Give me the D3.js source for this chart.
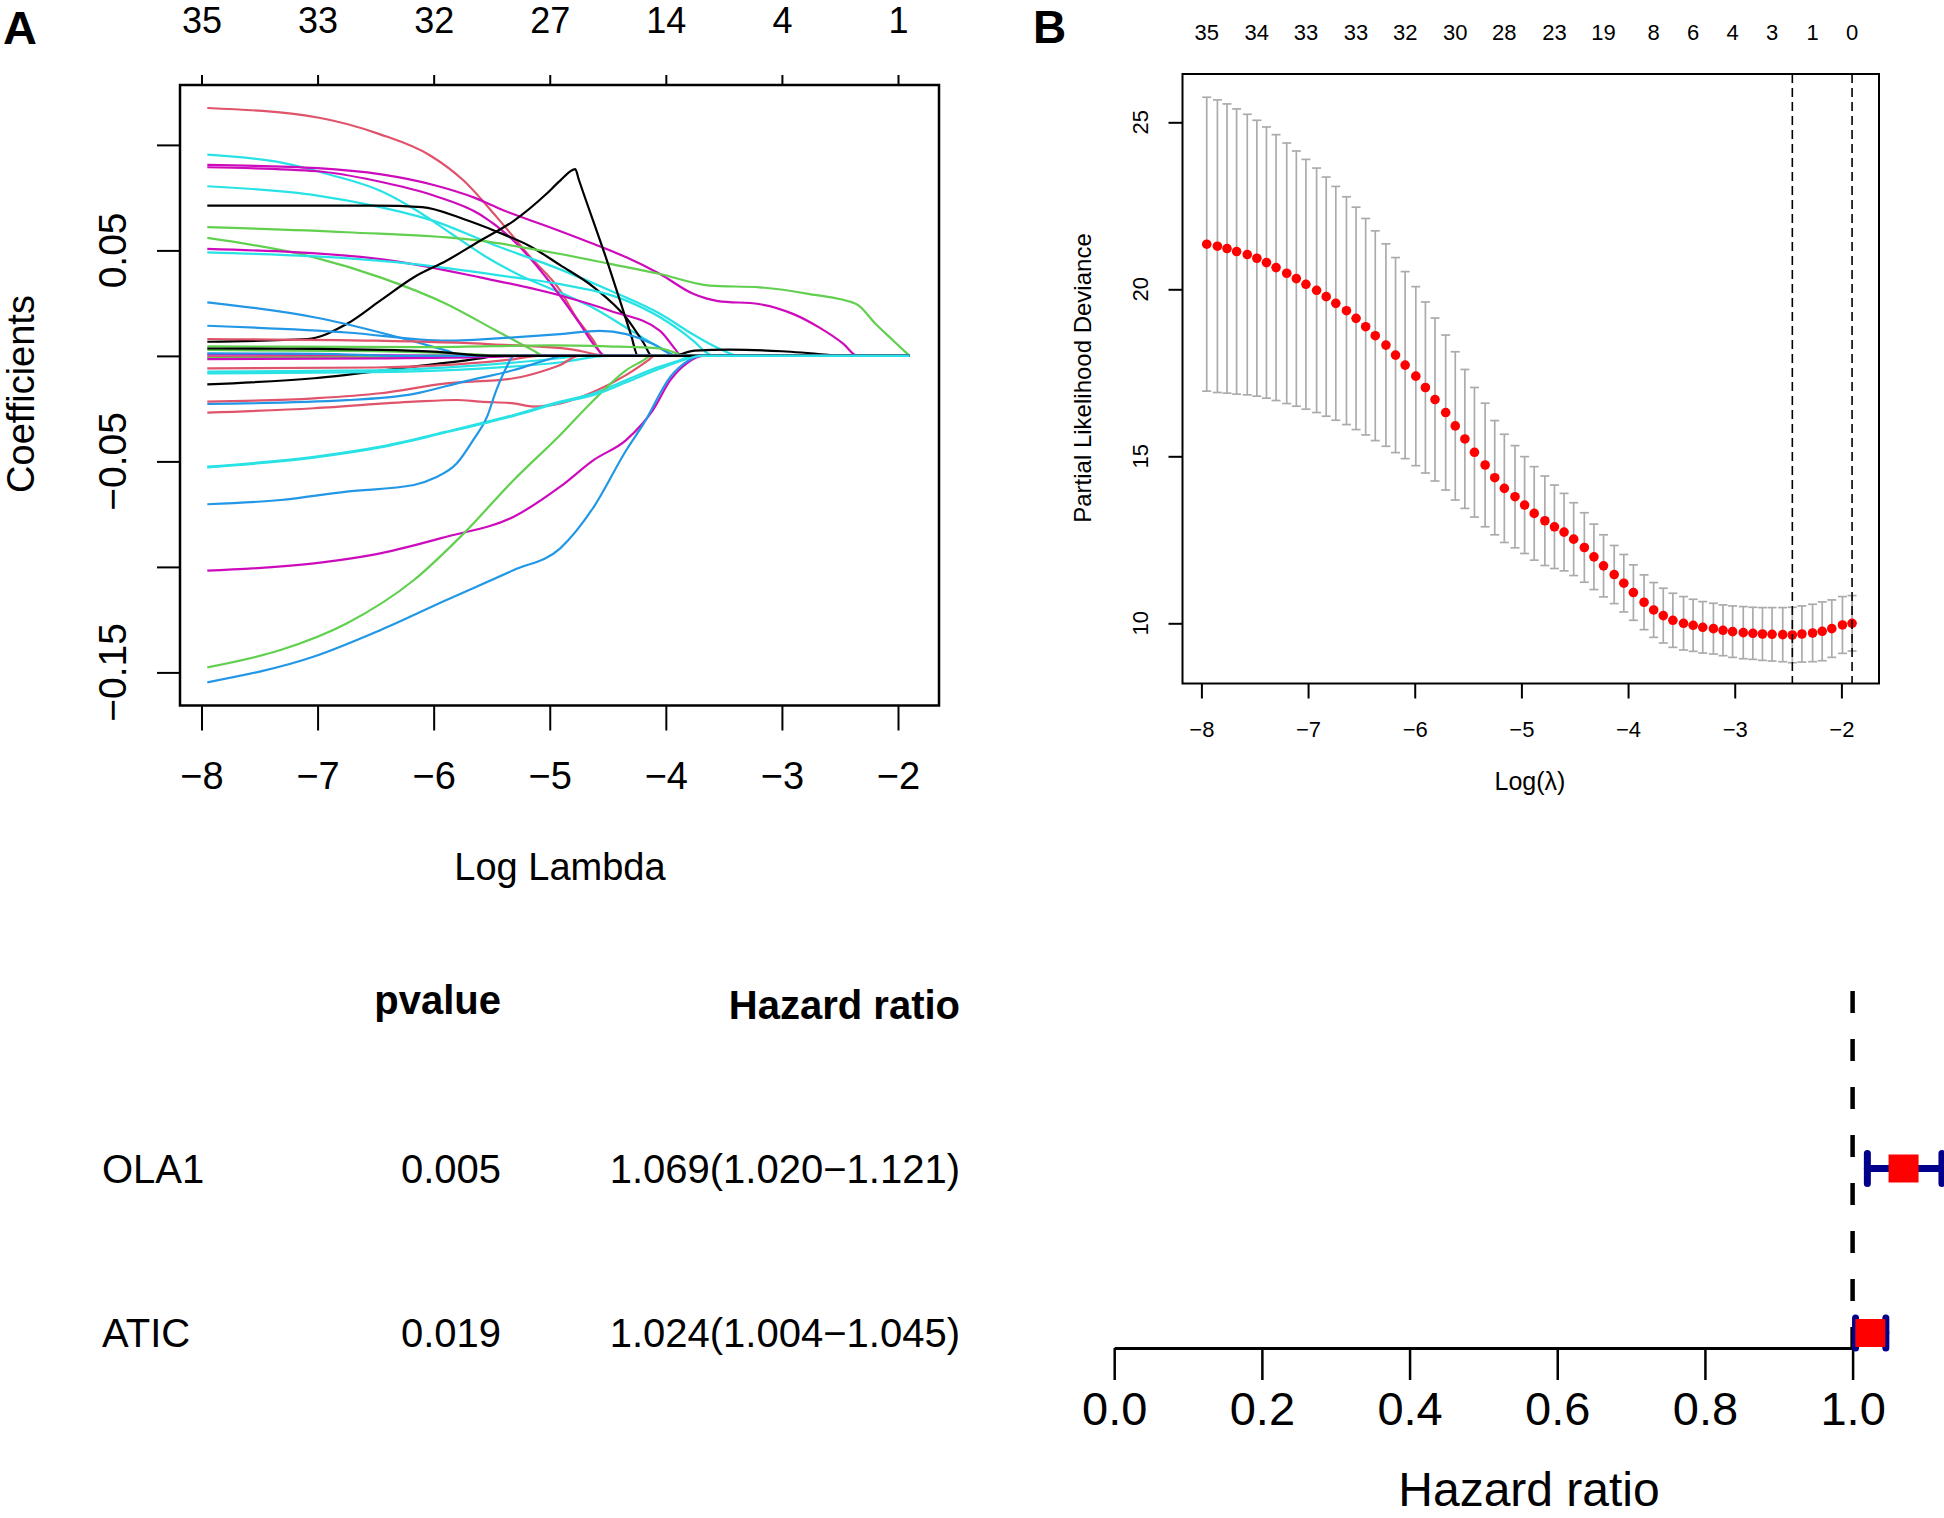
<!DOCTYPE html>
<html>
<head>
<meta charset="utf-8">
<script src="https://cdn.jsdelivr.net/npm/d3@7"></script>
<style>
  body { margin: 0; background: #fff; }
</style>
</head>
<body>
<div id="chart"></div>
<script>
// ---------- data ----------
// R default palette used by glmnet's coefficient plot
var pal = { k: "#000000", r: "#DF536B", g: "#61D04F", b: "#2297E6", c: "#28E2E5", m: "#CD0BBC" }

// panel A : coefficient paths
var lambdaTicks = [-8, -7, -6, -5, -4, -3, -2]
var dfTopA = [35, 33, 32, 27, 14, 4, 1]
var coefTicks = [0.10, 0.05, 0, -0.05, -0.10, -0.15]
var coefTickLabels = ["", "0.05", "", "\u22120.05", "", "\u22120.15"]   // R drops the overlapping ones

var coefColors = ["r","c","m","m","c","k","g","g","m","c","k","b","b","r","g","g","m","k",
  "r","r","c","c","r","b","r","c","b","m","g","b","g","m","b","k","c"]

var coefPaths = [
  [[-7.95,0.1175],[-7.0,0.113],[-6.46,0.105],[-6.03,0.095],[-5.74,0.083],[-5.46,0.066],[-5.17,0.047],[-4.91,0.031],[-4.77,0.018],[-4.62,0.007],[-4.54,0],[-1.9,0]],
  [[-7.95,0.0954],[-7.3,0.0915],[-6.9,0.086],[-6.45,0.078],[-6.15,0.069],[-5.85,0.058],[-5.55,0.047],[-5.25,0.038],[-4.91,0.030],[-4.6,0.022],[-4.3,0.012],[-4.05,0.004],[-3.9,0],[-1.9,0]],
  [[-7.95,0.0905],[-7.0,0.089],[-6.45,0.086],[-6.0,0.081],[-5.65,0.075],[-5.4,0.069],[-5.0,0.061],[-4.62,0.053],[-4.34,0.0467],[-4.05,0.0388],[-3.76,0.0293],[-3.55,0.026],[-3.2,0.0246],[-2.9,0.0198],[-2.68,0.0135],[-2.47,0.0057],[-2.35,0],[-1.9,0]],
  [[-7.95,0.0894],[-7.0,0.0875],[-6.5,0.083],[-6.0,0.076],[-5.6,0.067],[-5.3,0.054],[-5.0,0.035],[-4.75,0.016],[-4.6,0.004],[-4.52,0],[-1.9,0]],
  [[-7.95,0.0804],[-7.0,0.076],[-6.5,0.071],[-6.0,0.064],[-5.5,0.053],[-4.91,0.041],[-4.48,0.031],[-4.05,0.020],[-3.76,0.010],[-3.56,0.004],[-3.36,0],[-1.9,0]],
  [[-7.95,0.0712],[-6.5,0.0712],[-6.1,0.0705],[-5.75,0.065],[-5.46,0.059],[-5.17,0.052],[-4.91,0.043],[-4.62,0.0325],[-4.34,0.018],[-4.19,0.006],[-4.12,0],[-1.9,0]],
  [[-7.95,0.061],[-6.75,0.0586],[-5.6,0.0546],[-4.91,0.0483],[-4.48,0.0436],[-4.05,0.0388],[-3.62,0.0333],[-3.19,0.0325],[-2.76,0.0293],[-2.36,0.0246],[-2.19,0.015],[-2.04,0.0072],[-1.9,0]],
  [[-7.95,0.0559],[-7.03,0.0467],[-6.46,0.0372],[-5.89,0.0246],[-5.46,0.0119],[-5.14,0.0025],[-5.05,0],[-1.9,0]],
  [[-7.95,0.0507],[-6.46,0.0459],[-5.6,0.0372],[-4.91,0.0286],[-4.48,0.0214],[-4.05,0.0119],[-3.91,0.0025],[-3.87,0],[-1.9,0]],
  [[-7.95,0.0491],[-6.17,0.0435],[-5.31,0.0372],[-4.91,0.034],[-4.34,0.0262],[-4.05,0.0183],[-3.76,0.007],[-3.65,0.0016],[-3.58,0],[-1.9,0]],
  [[-7.95,0.0067],[-7.09,0.008],[-6.75,0.0151],[-6.46,0.0262],[-6.17,0.0373],[-5.89,0.0451],[-5.6,0.0546],[-5.31,0.064],[-5.03,0.0767],[-4.91,0.0831],[-4.78,0.0885],[-4.75,0.0836],[-4.5,0.044],[-4.3,0.010],[-4.24,0],[-1.9,0]],
  [[-7.95,0.0254],[-7.03,0.0183],[-6.46,0.0111],[-5.89,0.0025],[-5.74,0],[-1.9,0]],
  [[-7.95,0.0143],[-6.75,0.0111],[-5.89,0.0072],[-5.31,0.0088],[-4.91,0.0103],[-4.57,0.0119],[-4.34,0.0103],[-4.11,0.0056],[-3.96,0.0009],[-3.92,0],[-1.9,0]],
  [[-7.95,0.008],[-6.5,0.0072],[-5.5,0.0055],[-4.8,0.003],[-4.5,0],[-1.9,0]],
  [[-7.95,0.0045],[-6.0,0.0042],[-5.0,0.005],[-4.5,0.0045],[-4.05,0.0035],[-3.8,0],[-1.9,0]],
  [[-7.95,0.0028],[-6.5,0.0022],[-5.6,0.0006],[-5.4,0],[-1.9,0]],
  [[-7.95,0.0006],[-7.0,0.0005],[-6.0,0.0002],[-5.7,0],[-1.9,0]],
  [[-7.95,-0.0135],[-7.03,-0.0106],[-6.17,-0.0051],[-5.6,-0.0012],[-5.46,0],[-3.95,0],[-3.75,0.0025],[-3.45,0.003],[-3.0,0.0022],[-2.6,0.0005],[-2.5,0],[-1.9,0]],
  [[-7.95,-0.0004],[-6.5,-0.0003],[-6.0,0],[-1.9,0]],
  [[-7.95,-0.0059],[-6.5,-0.0055],[-5.8,-0.004],[-5.3,-0.0015],[-5.1,0],[-1.9,0]],
  [[-7.95,-0.0075],[-6.5,-0.0068],[-5.5,-0.004],[-4.9,-0.001],[-4.75,0],[-1.9,0]],
  [[-7.95,-0.0083],[-6.5,-0.0077],[-5.6,-0.006],[-4.9,-0.003],[-4.5,0],[-1.9,0]],
  [[-7.95,-0.0217],[-7.03,-0.0201],[-6.46,-0.0177],[-5.89,-0.013],[-5.31,-0.0106],[-5.03,-0.0067],[-4.91,-0.0043],[-4.75,0],[-1.9,0]],
  [[-7.95,-0.0228],[-6.75,-0.021],[-6.17,-0.018],[-5.74,-0.0122],[-5.31,-0.0067],[-5.0,-0.0015],[-4.9,0],[-1.9,0]],
  [[-7.95,-0.0269],[-7.03,-0.0248],[-6.17,-0.0217],[-5.8,-0.0209],[-5.6,-0.0217],[-5.31,-0.0225],[-5.14,-0.024],[-4.91,-0.0225],[-4.62,-0.017],[-4.34,-0.009],[-4.15,-0.002],[-4.1,0],[-1.9,0]],
  [[-7.95,-0.0525],[-7.03,-0.0478],[-6.46,-0.043],[-5.89,-0.0359],[-5.31,-0.028],[-4.91,-0.0217],[-4.62,-0.0177],[-4.34,-0.0114],[-4.05,-0.0051],[-3.91,-0.0027],[-3.76,0],[-1.9,0]],
  [[-7.95,-0.0703],[-7.32,-0.0683],[-6.75,-0.0643],[-6.17,-0.0612],[-6.0,-0.058],[-5.8,-0.0509],[-5.66,-0.0399],[-5.54,-0.0288],[-5.46,-0.0162],[-5.37,-0.0051],[-5.31,0],[-1.9,0]],
  [[-7.95,-0.1018],[-7.03,-0.0983],[-6.46,-0.0936],[-5.89,-0.0857],[-5.31,-0.0762],[-4.91,-0.062],[-4.62,-0.0493],[-4.34,-0.0398],[-4.11,-0.0256],[-3.96,-0.0114],[-3.82,-0.0035],[-3.68,0],[-1.9,0]],
  [[-7.95,-0.1476],[-7.32,-0.1394],[-6.75,-0.1268],[-6.17,-0.1062],[-5.74,-0.0841],[-5.31,-0.0588],[-4.91,-0.0375],[-4.62,-0.0209],[-4.34,-0.0067],[-4.19,-0.002],[-4.13,0],[-1.9,0]],
  [[-7.95,-0.1547],[-7.03,-0.1425],[-6.46,-0.13],[-5.89,-0.1157],[-5.31,-0.1015],[-4.91,-0.0912],[-4.62,-0.0715],[-4.34,-0.0446],[-4.19,-0.032],[-3.96,-0.0098],[-3.82,-0.0027],[-3.71,0],[-1.9,0]],
  [[-7.95,-0.0010],[-6.8,-0.0008],[-6.0,0],[-1.9,0]],
  [[-7.95,-0.0015],[-6.5,-0.0012],[-5.5,-0.0005],[-5.2,0],[-1.9,0]],
  [[-7.95,0.0012],[-7.0,0.001],[-6.2,0],[-1.9,0]],
  [[-7.95,0.0035],[-7.0,0.0033],[-6.0,0.002],[-5.5,0],[-1.9,0]],
  [[-7.95,-0.0528],[-7.03,-0.0482],[-6.46,-0.0434],[-5.89,-0.0362],[-5.31,-0.0284],[-4.91,-0.0222],[-4.62,-0.0185],[-4.34,-0.0125],[-4.05,-0.006],[-3.85,-0.002],[-3.7,0],[-1.9,0]]
]

// panel B : cross-validation curve
var logLambdaB = [-7.95,-7.85,-7.76,-7.67,-7.57,-7.48,-7.39,-7.30,-7.20,-7.11,
  -7.02,-6.92,-6.83,-6.74,-6.64,-6.55,-6.46,-6.37,-6.27,-6.18,
  -6.09,-5.99,-5.90,-5.81,-5.71,-5.62,-5.53,-5.44,-5.34,-5.25,
  -5.16,-5.06,-4.97,-4.88,-4.78,-4.69,-4.60,-4.51,-4.41,-4.32,
  -4.23,-4.13,-4.04,-3.95,-3.85,-3.76,-3.67,-3.58,-3.48,-3.39,
  -3.30,-3.20,-3.11,-3.02,-2.92,-2.83,-2.74,-2.65,-2.55,-2.46,
  -2.37,-2.27,-2.18,-2.09,-1.99,-1.90]
var cvmB = [21.35,21.29,21.22,21.13,21.04,20.93,20.80,20.65,20.48,20.32,
  20.15,19.97,19.78,19.58,19.36,19.13,18.88,18.61,18.33,18.03,
  17.73,17.40,17.06,16.70,16.31,15.91,15.52,15.12,14.74,14.36,
  14.04,13.79,13.54,13.29,13.07,12.89,12.73,12.52,12.27,11.99,
  11.72,11.46,11.20,10.92,10.63,10.40,10.23,10.09,10.00,9.94,
  9.88,9.84,9.79,9.75,9.72,9.70,9.68,9.67,9.66,9.65,
  9.68,9.71,9.76,9.84,9.95,10.00]
var cvsdB = [4.40,4.38,4.33,4.27,4.20,4.13,4.06,3.98,3.90,3.82,
  3.74,3.66,3.58,3.50,3.41,3.33,3.24,3.14,3.03,2.92,
  2.80,2.68,2.56,2.44,2.32,2.22,2.08,1.94,1.85,1.71,
  1.62,1.53,1.45,1.40,1.34,1.25,1.16,1.09,1.04,0.98,
  0.93,0.87,0.86,0.83,0.82,0.82,0.82,0.81,0.80,0.78,
  0.77,0.76,0.76,0.77,0.78,0.78,0.79,0.80,0.81,0.83,
  0.84,0.86,0.88,0.86,0.85,0.83]
var nzeroIdxB = [0, 5, 10, 15, 20, 25, 30, 35, 40, 45, 49, 53, 57, 61, 65]
var nzeroB = [35, 34, 33, 33, 32, 30, 28, 23, 19, 8, 6, 4, 3, 1, 0]
var devTicks = [10, 15, 20, 25]

// panel C : forest plot
var genes = ["OLA1", "ATIC"]
var pvalues = [0.005, 0.019]
var hr = [1.069, 1.024]
var hrLow = [1.020, 1.004]
var hrHigh = [1.121, 1.045]
var hrTicks = [0, 0.2, 0.4, 0.6, 0.8, 1.0]

// ---------- drawing ----------
var font = '"Liberation Sans", Arial, Helvetica, sans-serif'
var svg = d3.select("#chart")
  .append("svg")
  .attr("width", 1944)
  .attr("height", 1518)
  .style("font-family", font)
svg.append("rect").attr("width", 1944).attr("height", 1518).attr("fill", "#fff")

function styleAxis(g, size) {
  g.attr("font-family", font).attr("font-size", size)
  g.selectAll(".tick line").attr("stroke", "#000").attr("stroke-width", 2)
  g.selectAll(".tick text").attr("fill", "#000")
}

// ===== panel A =====
var boxA = { x0: 180, y0: 85, x1: 939, y1: 705.5 }
var xA = d3.scaleLinear().domain([-8, -2]).range([201.5, 898])
var yA = d3.scaleLinear().domain([0.05, -0.15]).range([250.4, 672.4])

var coefLine = d3.line()
  .x(function (d) { return xA(d[0]) })
  .y(function (d) { return yA(d[1]) })
  .curve(d3.curveMonotoneX)

svg.append("g")
  .selectAll("path")
  .data(coefPaths)
  .enter()
  .append("path")
  .attr("d", coefLine)
  .attr("fill", "none")
  .attr("stroke", function (d, i) { return pal[coefColors[i]] })
  .attr("stroke-width", 2.2)

svg.append("rect")
  .attr("x", boxA.x0).attr("y", boxA.y0)
  .attr("width", boxA.x1 - boxA.x0).attr("height", boxA.y1 - boxA.y0)
  .attr("fill", "none").attr("stroke", "#000").attr("stroke-width", 2.5)

var gxA = svg.append("g")
  .attr("transform", "translate(0," + boxA.y1 + ")")
  .call(d3.axisBottom(xA).tickValues(lambdaTicks).tickSize(25).tickPadding(32)
    .tickFormat(d3.format("d")))
gxA.select(".domain").remove()
styleAxis(gxA, 38)

var gtA = svg.append("g")
  .attr("transform", "translate(0," + boxA.y0 + ")")
  .call(d3.axisTop(xA).tickValues(lambdaTicks).tickSize(10).tickPadding(42)
    .tickFormat(function (d, i) { return dfTopA[i] }))
gtA.select(".domain").remove()
styleAxis(gtA, 36)

var gyA = svg.append("g")
  .attr("transform", "translate(" + boxA.x0 + ",0)")
  .call(d3.axisLeft(yA).tickValues(coefTicks).tickSize(23).tickFormat(""))
gyA.select(".domain").remove()
styleAxis(gyA, 38)

// rotated y tick labels like R's las=0
svg.append("g")
  .selectAll("text")
  .data(coefTicks)
  .enter()
  .append("text")
  .attr("transform", function (d) { return "translate(126," + yA(d) + ") rotate(-90)" })
  .attr("text-anchor", "middle")
  .attr("font-size", 39)
  .text(function (d, i) { return coefTickLabels[i] })

svg.append("text")
  .attr("transform", "translate(34,394) rotate(-90)")
  .attr("text-anchor", "middle").attr("font-size", 38)
  .text("Coefficients")
svg.append("text")
  .attr("x", 560).attr("y", 880)
  .attr("text-anchor", "middle").attr("font-size", 38)
  .text("Log Lambda")
svg.append("text")
  .attr("x", 3).attr("y", 44)
  .attr("font-size", 47).attr("font-weight", "bold")
  .text("A")

// ===== panel B =====
var boxB = { x0: 1182.5, y0: 74, x1: 1879, y1: 683.5 }
var xB = d3.scaleLinear().domain([-8, -2]).range([1201.4, 1841.4])
var yB = d3.scaleLinear().domain([10, 25]).range([623.3, 122.3])

// lambda.min and lambda.1se
var iMin = d3.minIndex(cvmB)
var limit = cvmB[iMin] + cvsdB[iMin]
var i1se = d3.max(d3.range(cvmB.length).filter(function (i) { return cvmB[i] <= limit }))

var bars = svg.append("g")
  .selectAll("g")
  .data(cvmB)
  .enter()
  .append("g")
  .attr("stroke", "#ABABAB")
  .attr("stroke-width", 1.7)
bars.append("line")
  .attr("x1", function (d, i) { return xB(logLambdaB[i]) })
  .attr("x2", function (d, i) { return xB(logLambdaB[i]) })
  .attr("y1", function (d, i) { return yB(d + cvsdB[i]) })
  .attr("y2", function (d, i) { return yB(d - cvsdB[i]) })
bars.append("line")
  .attr("x1", function (d, i) { return xB(logLambdaB[i]) - 4.5 })
  .attr("x2", function (d, i) { return xB(logLambdaB[i]) + 4.5 })
  .attr("y1", function (d, i) { return yB(d + cvsdB[i]) })
  .attr("y2", function (d, i) { return yB(d + cvsdB[i]) })
bars.append("line")
  .attr("x1", function (d, i) { return xB(logLambdaB[i]) - 4.5 })
  .attr("x2", function (d, i) { return xB(logLambdaB[i]) + 4.5 })
  .attr("y1", function (d, i) { return yB(d - cvsdB[i]) })
  .attr("y2", function (d, i) { return yB(d - cvsdB[i]) })

svg.append("g")
  .selectAll("circle")
  .data(cvmB)
  .enter()
  .append("circle")
  .attr("cx", function (d, i) { return xB(logLambdaB[i]) })
  .attr("cy", function (d) { return yB(d) })
  .attr("r", 4.8)
  .attr("fill", "#FF0000")

svg.append("g")
  .selectAll("line")
  .data([iMin, i1se])
  .enter()
  .append("line")
  .attr("x1", function (d) { return xB(logLambdaB[d]) })
  .attr("x2", function (d) { return xB(logLambdaB[d]) })
  .attr("y1", boxB.y0).attr("y2", boxB.y1)
  .attr("stroke", "#000").attr("stroke-width", 1.6)
  .attr("stroke-dasharray", "9,5")

svg.append("rect")
  .attr("x", boxB.x0).attr("y", boxB.y0)
  .attr("width", boxB.x1 - boxB.x0).attr("height", boxB.y1 - boxB.y0)
  .attr("fill", "none").attr("stroke", "#000").attr("stroke-width", 2)

var gxB = svg.append("g")
  .attr("transform", "translate(0," + boxB.y1 + ")")
  .call(d3.axisBottom(xB).tickValues(lambdaTicks).tickSize(15).tickPadding(23)
    .tickFormat(d3.format("d")))
gxB.select(".domain").remove()
styleAxis(gxB, 22)

var gyB = svg.append("g")
  .attr("transform", "translate(" + boxB.x0 + ",0)")
  .call(d3.axisLeft(yB).tickValues(devTicks).tickSize(14).tickFormat(""))
gyB.select(".domain").remove()
styleAxis(gyB, 22)

svg.append("g")
  .selectAll("text")
  .data(devTicks)
  .enter()
  .append("text")
  .attr("transform", function (d) { return "translate(1148," + yB(d) + ") rotate(-90)" })
  .attr("text-anchor", "middle")
  .attr("font-size", 22)
  .text(function (d) { return d })

// number of non-zero coefficients along the top
svg.append("g")
  .selectAll("text")
  .data(nzeroIdxB)
  .enter()
  .append("text")
  .attr("x", function (d) { return xB(logLambdaB[d]) })
  .attr("y", 40)
  .attr("text-anchor", "middle")
  .attr("font-size", 22)
  .text(function (d, i) { return nzeroB[i] })

svg.append("text")
  .attr("transform", "translate(1091,378) rotate(-90)")
  .attr("text-anchor", "middle").attr("font-size", 24)
  .text("Partial Likelihood Deviance")
svg.append("text")
  .attr("x", 1530).attr("y", 790)
  .attr("text-anchor", "middle").attr("font-size", 25)
  .text("Log(\u03bb)")
svg.append("text")
  .attr("x", 1033).attr("y", 43)
  .attr("font-size", 46).attr("font-weight", "bold")
  .text("B")

// ===== forest plot =====
var xF = d3.scaleLinear().domain([0, 1]).range([1114.2, 1852.6])
var yRow = d3.scalePoint().domain(["header"].concat(genes)).range([1004, 1333])
var axisY = 1348
var f3 = d3.format(".3f")

svg.append("text")
  .attr("x", 501).attr("y", 1014)
  .attr("text-anchor", "end").attr("font-size", 40).attr("font-weight", "bold")
  .text("pvalue")
svg.append("text")
  .attr("x", 960).attr("y", 1019)
  .attr("text-anchor", "end").attr("font-size", 40).attr("font-weight", "bold")
  .text("Hazard ratio")

var rows = svg.append("g")
  .selectAll("g")
  .data(genes)
  .enter()
  .append("g")
  .attr("transform", function (d) { return "translate(0," + yRow(d) + ")" })
  .attr("font-size", 40)
rows.append("text").attr("x", 102).attr("y", 14).text(function (d) { return d })
rows.append("text").attr("x", 501).attr("y", 14).attr("text-anchor", "end")
  .text(function (d, i) { return f3(pvalues[i]) })
rows.append("text").attr("x", 960).attr("y", 14).attr("text-anchor", "end")
  .text(function (d, i) { return f3(hr[i]) + "(" + f3(hrLow[i]) + "\u2212" + f3(hrHigh[i]) + ")" })

// reference line at HR = 1
svg.append("line")
  .attr("x1", xF(1)).attr("x2", xF(1))
  .attr("y1", 991).attr("y2", axisY)
  .attr("stroke", "#000").attr("stroke-width", 4.5)
  .attr("stroke-dasharray", "22,26")

var gxF = svg.append("g")
  .attr("transform", "translate(0," + axisY + ")")
  .call(d3.axisBottom(xF).tickValues(hrTicks).tickSize(32).tickSizeOuter(0).tickPadding(12)
    .tickFormat(d3.format(".1f")))
gxF.select(".domain").attr("stroke", "#000").attr("stroke-width", 3)
styleAxis(gxF, 47)
gxF.selectAll(".tick line").attr("stroke-width", 2.5)

var ci = svg.append("g")
  .selectAll("g")
  .data(genes)
  .enter()
  .append("g")
  .attr("stroke", "#00008B")
  .attr("stroke-width", 7)
  .attr("stroke-linecap", "round")
ci.append("line")
  .attr("x1", function (d, i) { return xF(hrLow[i]) })
  .attr("x2", function (d, i) { return xF(hrHigh[i]) })
  .attr("y1", function (d) { return yRow(d) })
  .attr("y2", function (d) { return yRow(d) })
ci.append("line")
  .attr("x1", function (d, i) { return xF(hrLow[i]) })
  .attr("x2", function (d, i) { return xF(hrLow[i]) })
  .attr("y1", function (d) { return yRow(d) - 15 })
  .attr("y2", function (d) { return yRow(d) + 15 })
ci.append("line")
  .attr("x1", function (d, i) { return xF(hrHigh[i]) })
  .attr("x2", function (d, i) { return xF(hrHigh[i]) })
  .attr("y1", function (d) { return yRow(d) - 15 })
  .attr("y2", function (d) { return yRow(d) + 15 })

svg.append("g")
  .selectAll("rect")
  .data(genes)
  .enter()
  .append("rect")
  .attr("x", function (d, i) { return xF(hr[i]) - 15 })
  .attr("y", function (d) { return yRow(d) - 14 })
  .attr("width", 30)
  .attr("height", 28)
  .attr("fill", "#FF0000")

svg.append("text")
  .attr("x", 1529).attr("y", 1506)
  .attr("text-anchor", "middle").attr("font-size", 48)
  .text("Hazard ratio")
</script>
</body>
</html>
